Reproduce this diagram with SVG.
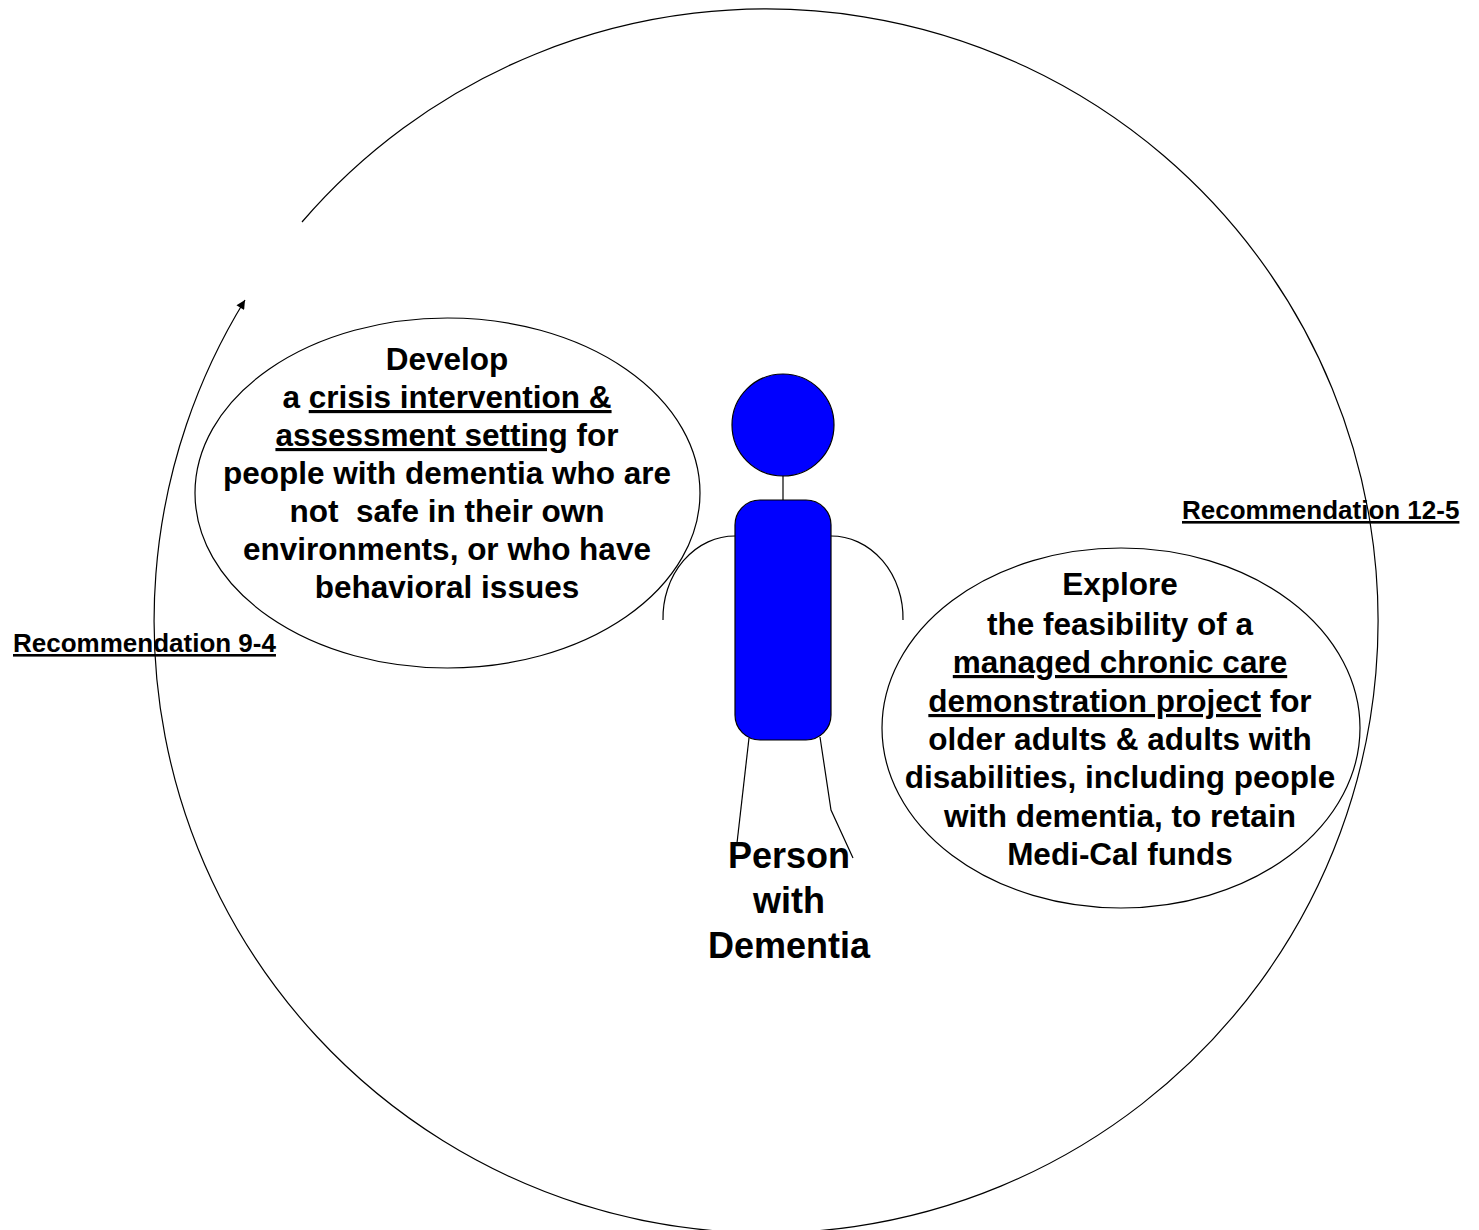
<svg xmlns="http://www.w3.org/2000/svg" width="1479" height="1230" viewBox="0 0 1479 1230">
<style>
text{font-family:"Liberation Sans",Arial,sans-serif;font-weight:bold;fill:#000}
.t{font-size:31.5px;text-anchor:middle}
.p{font-size:36px;text-anchor:middle}
.r{font-size:26px;text-decoration:underline}
.u{text-decoration:underline}
.ln{fill:none;stroke:#000;stroke-width:1.2}
.blue{fill:#0000ff;stroke:#000;stroke-width:1.2}
</style>
<defs>
<marker id="ah" viewBox="0 0 10 10" refX="10" refY="5" markerWidth="12" markerHeight="9" markerUnits="userSpaceOnUse" orient="auto">
<path d="M0,0 L10,5 L0,10 z" fill="#000"/>
</marker>
</defs>
<rect width="1479" height="1230" fill="#fff"/>
<g id="connectors">
<path class="ln" d="M302,222 A612,612 0 1,1 245,300" marker-end="url(#ah)"/>
</g>
<g id="node-crisis">
<ellipse class="ln" cx="447.5" cy="493" rx="252.5" ry="175"/>
<text class="t" x="447" y="370">Develop</text>
<text class="t" x="447" y="408">a <tspan class="u">crisis intervention &amp;</tspan></text>
<text class="t" x="447" y="446"><tspan class="u">assessment setting</tspan> for</text>
<text class="t" x="447" y="484">people with dementia who are</text>
<text class="t" x="447" y="522" style="white-space:pre">not  safe in their own</text>
<text class="t" x="447" y="560">environments, or who have</text>
<text class="t" x="447" y="598">behavioral issues</text>
</g>
<g id="node-chronic">
<ellipse class="ln" cx="1121" cy="728" rx="239" ry="180"/>
<text class="t" x="1120" y="595">Explore</text>
<text class="t" x="1120" y="635">the feasibility of a</text>
<text class="t" x="1120" y="673"><tspan class="u">managed chronic care</tspan></text>
<text class="t" x="1120" y="712"><tspan class="u">demonstration project</tspan> for</text>
<text class="t" x="1120" y="750">older adults &amp; adults with</text>
<text class="t" x="1120" y="788">disabilities, including people</text>
<text class="t" x="1120" y="827">with dementia, to retain</text>
<text class="t" x="1120" y="865">Medi-Cal funds</text>
</g>
<g id="node-person">
<path class="ln" d="M735,536 A72,82 0 0,0 663,620"/>
<path class="ln" d="M831,536 A72,82 0 0,1 903,620"/>
<line class="ln" x1="783" y1="475" x2="783" y2="500"/>
<path class="ln" d="M749,738 L737,843"/>
<path class="ln" d="M820,737 L831,810 L853,858"/>
<circle class="blue" cx="783" cy="425" r="51"/>
<rect class="blue" x="735" y="500" width="96" height="240" rx="25" ry="25"/>
<text class="p" x="789" y="868">Person</text>
<text class="p" x="789" y="913">with</text>
<text class="p" x="789" y="958">Dementia</text>
</g>
<g id="label-9-4">
<text class="r" x="13" y="652">Recommendation 9-4</text>
</g>
<g id="label-12-5">
<text class="r" x="1182" y="519">Recommendation 12-5</text>
</g>
</svg>
